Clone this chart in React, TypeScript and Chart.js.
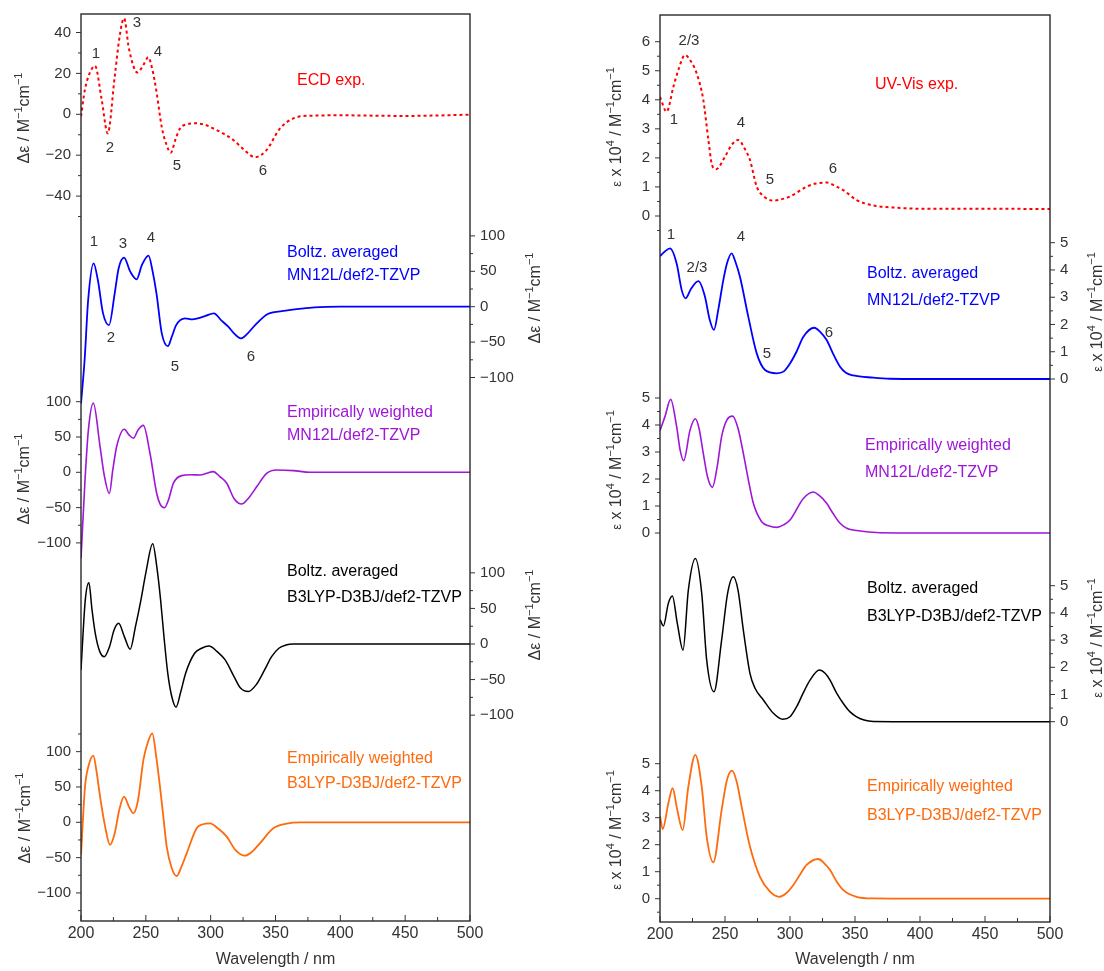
import React, { useEffect, useRef } from 'react';
import { Chart, registerables } from 'chart.js';

Chart.register(...registerables);

// ---------------- data ----------------
const xTickLabels = [200, 250, 300, 350, 400, 450, 500];

// ECD spectra (Δε / M^-1 cm^-1)
const ecdExpX = [200, 203, 206, 210.8, 216, 220.6, 226, 230, 233.2, 237, 243.5, 248, 251.9, 255, 258.4, 262.2, 266, 269.2, 273, 276.4, 282, 287.9, 295, 302, 310, 317.5, 326, 334.2, 343, 353.5, 363.8, 376.6, 400, 450, 500];
const ecdExpY = [-1, 12, 19, 23.7, 7, -9.3, 18.4, 39, 47, 32, 20.4, 24, 27.9, 22, 10.3, -6, -15, -18.8, -12, -6.9, -4.8, -4.4, -5, -6.9, -9.5, -12.6, -17.5, -21, -17.5, -6.9, -2, -0.7, -0.5, -0.8, -0.2];

const ecdBoltzMnX = [200, 202.8, 205.5, 209.7, 213, 217, 221.6, 226, 229, 233.2, 238, 242.9, 247, 252.1, 255, 258.2, 262.3, 267, 270, 273.4, 280.3, 286, 290, 296, 302.5, 308, 313.6, 318, 323.3, 328, 334.3, 344, 357.9, 370, 380, 400, 450, 500];
const ecdBoltzMnY = [-137, -75, 9, 61.3, 37.7, -9.4, -26, 18.9, 54, 69.3, 49.5, 38.7, 59, 72.2, 52, 18.9, -37.7, -55.7, -42.5, -26, -16.5, -18, -16.5, -13, -9.4, -18.9, -28.3, -37.7, -44.8, -38.7, -26, -10.4, -5.7, -2.8, -1, 0, 0, 0];

const ecdEmpMnX = [200, 203.1, 205.7, 209.5, 214.7, 218, 221.9, 224.5, 227.5, 233.4, 237, 240.4, 244, 248.1, 253.2, 258.4, 261, 264.3, 267.5, 271.2, 277.6, 285, 291.8, 297, 302, 307, 312.4, 318, 323.9, 329, 335.5, 343.2, 350.9, 363.8, 376.6, 400, 450, 500];
const ecdEmpMnY = [-122, -11, 60, 98, 36.5, -5, -29.9, 3, 36.5, 61, 53, 48.3, 60, 66.4, 27, -30, -45, -50.2, -39, -15.6, -4.7, -3.5, -3.8, -1.4, 1, -6, -15.6, -37, -45, -37, -20.4, -1.4, 3.3, 2.4, 0, 0, 0, 0];

const ecdBoltzB3X = [200, 203.3, 206.1, 208.5, 211, 214.5, 218, 222, 225.5, 229, 233.5, 237.9, 242, 246.2, 250, 255.3, 258.5, 261.4, 264, 266.9, 270, 273.3, 277, 280.7, 287.6, 293, 298.7, 305, 311.2, 318, 323, 329.1, 335, 341.6, 347, 352.6, 358, 363.7, 400, 450, 500];
const ecdBoltzB3Y = [-36.4, 61.7, 86, 48, 15, -10.7, -17.8, -3.7, 19.6, 29, 10, -7.5, 24.3, 61.7, 100, 141, 108, 61.7, 10, -41, -73.8, -88.8, -66.8, -41, -13, -6, -2.8, -10.7, -22.4, -45.8, -62, -66.8, -57.5, -36.4, -17.8, -6, -1.5, 0, 0, 0, 0];

const ecdEmpB3X = [200, 203.1, 206, 209.5, 212, 214.7, 218.5, 222.4, 226, 229.5, 233.2, 237, 240.4, 244, 248.1, 251.5, 255, 258, 260.9, 263.5, 266.1, 270, 273.8, 277.5, 281.5, 289.2, 294, 299.5, 305.5, 312.4, 319, 326.5, 332, 338, 348.3, 358.6, 368.9, 400, 450, 500];
const ecdEmpB3Y = [-46, 50.5, 81, 94.3, 71.7, 36.3, -5, -32, -15.6, 17.5, 36.3, 22, 12.7, 31.6, 88, 113, 126, 93, 50.5, 8, -34.4, -65, -76, -62.7, -43.9, -8.5, -2.8, -1.4, -8.5, -20.3, -39, -47.2, -41.5, -29.7, -8.5, -1.9, 0, 0, 0, 0];

// UV-Vis spectra (ε x 10^4 / M^-1 cm^-1)
const uvExpX = [200, 205.1, 210.3, 214.5, 219.2, 224, 228.2, 233.3, 237.2, 240, 243.1, 250, 255, 260.3, 265, 269.2, 274.4, 280, 287.2, 293, 300, 312.8, 320, 328.2, 335, 341, 351.3, 364.1, 376.9, 402.6, 450, 500];
const uvExpY = [4.1, 3.59, 4.45, 5.08, 5.54, 5.31, 4.91, 4.0, 2.62, 1.76, 1.61, 2.04, 2.44, 2.62, 2.33, 1.93, 1.01, 0.67, 0.53, 0.57, 0.67, 1.01, 1.12, 1.15, 1.03, 0.89, 0.55, 0.36, 0.30, 0.25, 0.25, 0.24];

const uvBoltzMnX = [200, 203.5, 207.7, 212.8, 216.7, 219.7, 224, 229.5, 234.6, 238, 241.5, 245, 248.7, 251.5, 255.1, 258, 261.5, 267.9, 274.4, 280.8, 289.7, 295, 300, 305, 310.3, 318.7, 323, 328.2, 333, 338.5, 343, 348.7, 364.1, 376.9, 400, 450, 500];
const uvBoltzMnY = [4.51, 4.67, 4.79, 4.24, 3.26, 2.96, 3.32, 3.59, 3.02, 2.22, 1.80, 2.59, 3.63, 4.24, 4.61, 4.30, 3.75, 2.29, 0.94, 0.33, 0.21, 0.27, 0.57, 1.0, 1.55, 1.88, 1.74, 1.43, 0.94, 0.45, 0.23, 0.13, 0.05, 0.01, 0, 0, 0];

const uvEmpMnX = [200, 203.8, 208.2, 212.8, 215.5, 218.2, 223.1, 227.2, 230, 233.3, 236.5, 240.3, 244, 247.4, 251.5, 255.9, 260, 264.1, 268, 271.8, 278.2, 284, 289.7, 295, 300, 310.3, 317.9, 322, 328.2, 333, 338.5, 344, 351.3, 369.2, 400, 450, 500];
const uvEmpMnY = [3.79, 4.31, 4.95, 3.94, 3.07, 2.68, 3.81, 4.23, 3.88, 2.95, 2.09, 1.69, 2.46, 3.57, 4.19, 4.33, 3.88, 2.95, 1.96, 1.10, 0.42, 0.26, 0.21, 0.30, 0.48, 1.28, 1.52, 1.41, 1.10, 0.73, 0.36, 0.17, 0.09, 0.01, 0, 0, 0];

const uvBoltzB3X = [200, 202.6, 206.4, 209.5, 213.3, 217.7, 221.8, 227.2, 232.1, 235.9, 241.5, 247.4, 252, 256.4, 260, 264.1, 269.2, 273.1, 279.5, 287.2, 294.4, 300, 305.1, 310, 315.4, 322.6, 327, 330.8, 336, 341, 346, 351.3, 357, 364.1, 400, 450, 500];
const uvBoltzB3Y = [3.76, 3.52, 4.35, 4.62, 3.62, 2.63, 4.84, 6.0, 4.72, 2.27, 1.10, 3.0, 4.72, 5.33, 4.84, 3.37, 1.78, 1.23, 0.80, 0.31, 0.09, 0.18, 0.55, 1.04, 1.53, 1.90, 1.78, 1.53, 1.04, 0.67, 0.37, 0.18, 0.06, 0.01, 0, 0, 0];

const uvEmpB3X = [200, 202.1, 206.4, 209.7, 213.3, 217.4, 221.8, 227.2, 232.1, 235.9, 241, 247.4, 251.5, 255.4, 259, 262.8, 269.2, 276.9, 284.6, 291.8, 297, 302.6, 307, 312.8, 321.8, 326, 330.8, 336, 341, 351.3, 364.1, 400, 450, 500];
const uvEmpB3Y = [3.06, 2.58, 3.53, 4.09, 3.28, 2.54, 4.15, 5.33, 4.15, 2.30, 1.35, 3.28, 4.4, 4.74, 4.33, 3.41, 1.93, 0.81, 0.26, 0.07, 0.2, 0.51, 0.84, 1.25, 1.47, 1.33, 1.06, 0.63, 0.32, 0.07, 0.01, 0, 0, 0];

// ---------------- styling / layout ----------------
const FONT = '"Liberation Sans", Arial, Helvetica, sans-serif';
const INK = '#333333';
const RED = '#ff0000';
const BLUE = '#0000ff';
const PURPLE = '#9e16d8';
const BLACK = '#000000';
const ORANGE = '#ff6a0d';
const H = 971;

type Part = { t: string; sup?: boolean; small?: boolean };
type Band = {
  id: string; side: 'left' | 'right';
  zero: number; pxPerUnit: number;
  from: number; to: number; step: number; labelEvery: number;
  title: Part[]; titleX: number; titleY: number;
};
type Label = { text: string; x: number; y: number; color: string; align: CanvasTextAlign; size: number };
type Series = { xs: number[]; ys: number[]; band: string; color: string; width: number; dash?: number[] };
type Panel = {
  left: number; width: number;
  areaLeft: number; areaRight: number; areaTop: number; areaBottom: number;
  bands: Band[]; series: Series[]; labels: Label[];
};

const M = '\u2212';
const ecdTitle: Part[] = [{ t: 'Δε' }, { t: ' / M' }, { t: M + '1', sup: true }, { t: 'cm' }, { t: M + '1', sup: true }];
const uvTitle: Part[] = [{ t: 'ε', small: true }, { t: ' x 10' }, { t: '4', sup: true }, { t: ' / M' }, { t: M + '1', sup: true }, { t: 'cm' }, { t: M + '1', sup: true }];

const num = (text: string, x: number, y: number): Label => ({ text, x, y, color: INK, align: 'center', size: 15 });
const name = (text: string, x: number, y: number, color: string): Label => ({ text, x, y, color, align: 'left', size: 16 });

const leftPanel: Panel = {
  left: 0, width: 580, areaLeft: 81, areaRight: 470, areaTop: 14, areaBottom: 921,
  bands: [
    { id: 'y0', side: 'left', zero: 114.3, pxPerUnit: 2.045, from: -50, to: 40, step: 10, labelEvery: 20, title: ecdTitle, titleX: 23, titleY: 118 },
    { id: 'y1', side: 'right', zero: 306.7, pxPerUnit: 0.708, from: -100, to: 100, step: 25, labelEvery: 50, title: ecdTitle, titleX: 534, titleY: 298 },
    { id: 'y2', side: 'left', zero: 472.3, pxPerUnit: 0.706, from: -100, to: 100, step: 25, labelEvery: 50, title: ecdTitle, titleX: 23, titleY: 479 },
    { id: 'y3', side: 'right', zero: 644, pxPerUnit: 0.7115, from: -100, to: 100, step: 25, labelEvery: 50, title: ecdTitle, titleX: 534, titleY: 615 },
    { id: 'y4', side: 'left', zero: 822.3, pxPerUnit: 0.7065, from: -125, to: 125, step: 25, labelEvery: 50, title: ecdTitle, titleX: 24, titleY: 818 },
  ],
  series: [
    { xs: ecdExpX, ys: ecdExpY, band: 'y0', color: RED, width: 2, dash: [3, 3] },
    { xs: ecdBoltzMnX, ys: ecdBoltzMnY, band: 'y1', color: BLUE, width: 1.8 },
    { xs: ecdEmpMnX, ys: ecdEmpMnY, band: 'y2', color: PURPLE, width: 1.6 },
    { xs: ecdBoltzB3X, ys: ecdBoltzB3Y, band: 'y3', color: BLACK, width: 1.5 },
    { xs: ecdEmpB3X, ys: ecdEmpB3Y, band: 'y4', color: ORANGE, width: 1.8 },
  ],
  labels: [
    num('1', 96, 54), num('2', 110, 148), num('3', 137, 23), num('4', 158, 52), num('5', 177, 166), num('6', 263, 171),
    num('1', 94, 242), num('3', 123, 244), num('4', 151, 238), num('2', 111, 338), num('5', 175, 367), num('6', 251, 357),
    name('ECD exp.', 297, 81, RED),
    name('Boltz. averaged', 287, 253, BLUE), name('MN12L/def2-TZVP', 287, 276, BLUE),
    name('Empirically weighted', 287, 413, PURPLE), name('MN12L/def2-TZVP', 287, 436, PURPLE),
    name('Boltz. averaged', 287, 572, BLACK), name('B3LYP-D3BJ/def2-TZVP', 287, 598, BLACK),
    name('Empirically weighted', 287, 759, ORANGE), name('B3LYP-D3BJ/def2-TZVP', 287, 784, ORANGE),
  ],
};

const rightPanel: Panel = {
  left: 580, width: 524, areaLeft: 660, areaRight: 1050, areaTop: 15, areaBottom: 922,
  bands: [
    { id: 'y0', side: 'left', zero: 216, pxPerUnit: 29.05, from: -0.5, to: 6, step: 0.5, labelEvery: 1, title: uvTitle, titleX: 615, titleY: 127 },
    { id: 'y1', side: 'right', zero: 379, pxPerUnit: 27.26, from: 0, to: 5, step: 0.5, labelEvery: 1, title: uvTitle, titleX: 1096, titleY: 312 },
    { id: 'y2', side: 'left', zero: 533, pxPerUnit: 27.0, from: 0, to: 5, step: 0.5, labelEvery: 1, title: uvTitle, titleX: 615, titleY: 470 },
    { id: 'y3', side: 'right', zero: 721.7, pxPerUnit: 27.2, from: 0, to: 5, step: 0.5, labelEvery: 1, title: uvTitle, titleX: 1096, titleY: 638 },
    { id: 'y4', side: 'left', zero: 898.7, pxPerUnit: 27.0, from: -0.5, to: 5, step: 0.5, labelEvery: 1, title: uvTitle, titleX: 615, titleY: 830 },
  ],
  series: [
    { xs: uvExpX, ys: uvExpY, band: 'y0', color: RED, width: 2, dash: [3, 3] },
    { xs: uvBoltzMnX, ys: uvBoltzMnY, band: 'y1', color: BLUE, width: 1.8 },
    { xs: uvEmpMnX, ys: uvEmpMnY, band: 'y2', color: PURPLE, width: 1.6 },
    { xs: uvBoltzB3X, ys: uvBoltzB3Y, band: 'y3', color: BLACK, width: 1.5 },
    { xs: uvEmpB3X, ys: uvEmpB3Y, band: 'y4', color: ORANGE, width: 1.8 },
  ],
  labels: [
    num('2/3', 689, 41), num('1', 674, 120), num('4', 741, 123), num('5', 770, 180), num('6', 833, 169),
    num('1', 671, 235), num('2/3', 697, 268), num('4', 741, 237), num('5', 767, 354), num('6', 829, 333),
    name('UV-Vis exp.', 875, 85, RED),
    name('Boltz. averaged', 867, 274, BLUE), name('MN12L/def2-TZVP', 867, 301, BLUE),
    name('Empirically weighted', 865, 446, PURPLE), name('MN12L/def2-TZVP', 865, 473, PURPLE),
    name('Boltz. averaged', 867, 589, BLACK), name('B3LYP-D3BJ/def2-TZVP', 867, 617, BLACK),
    name('Empirically weighted', 867, 787, ORANGE), name('B3LYP-D3BJ/def2-TZVP', 867, 816, ORANGE),
  ],
};

// ---------------- drawing helpers ----------------
function drawRich(ctx: CanvasRenderingContext2D, parts: Part[], cx: number, cy: number, base: number) {
  const fontFor = (p: Part) => `${p.sup ? Math.round(base * 0.7) : p.small ? Math.round(base * 0.8) : base}px ${FONT}`;
  const widths = parts.map((p) => { ctx.font = fontFor(p); return ctx.measureText(p.t).width; });
  const total = widths.reduce((s, w) => s + w, 0);
  ctx.save();
  ctx.translate(cx, cy);
  ctx.rotate(-Math.PI / 2);
  ctx.textAlign = 'left';
  ctx.textBaseline = 'alphabetic';
  ctx.fillStyle = INK;
  let x = -total / 2;
  const baseY = base * 0.36;
  parts.forEach((p, i) => {
    ctx.font = fontFor(p);
    ctx.fillText(p.t, x, p.sup ? baseY - base * 0.42 : baseY);
    x += widths[i];
  });
  ctx.restore();
}

function makePlugin(p: Panel) {
  return {
    id: 'bandAxes',
    afterDraw(chart: any) {
      const ctx: CanvasRenderingContext2D = chart.ctx;
      const a = chart.chartArea;
      const ox = p.left;
      ctx.save();
      // frame
      ctx.strokeStyle = '#1a1a1a';
      ctx.lineWidth = 1.3;
      ctx.strokeRect(a.left, a.top, a.right - a.left, a.bottom - a.top);
      // x ticks (inward)
      const xs = chart.scales.x;
      ctx.lineWidth = 1;
      ctx.strokeStyle = INK;
      for (let v = 200; v <= 500; v += 25) {
        const px = xs.getPixelForValue(v);
        const len = v % 50 === 0 ? 6 : 4;
        ctx.beginPath();
        ctx.moveTo(px, a.bottom);
        ctx.lineTo(px, a.bottom - len);
        ctx.stroke();
      }
      // y band axes
      p.bands.forEach((b) => {
        const sc = chart.scales[b.id];
        const n = Math.round((b.to - b.from) / b.step);
        for (let i = 0; i <= n; i++) {
          const v = b.from + i * b.step;
          const py = sc.getPixelForValue(v);
          const q = v / b.labelEvery;
          const major = Math.abs(q - Math.round(q)) < 1e-6;
          const len = major ? 5 : 3;
          ctx.lineWidth = 1;
          ctx.strokeStyle = INK;
          ctx.beginPath();
          if (b.side === 'left') { ctx.moveTo(a.left - len, py); ctx.lineTo(a.left, py); }
          else { ctx.moveTo(a.right, py); ctx.lineTo(a.right + len, py); }
          ctx.stroke();
          if (major) {
            const r = Math.round(v * 1000) / 1000;
            const txt = (r < 0 ? M : '') + String(Math.abs(r));
            ctx.font = `15px ${FONT}`;
            ctx.fillStyle = INK;
            ctx.textBaseline = 'middle';
            ctx.textAlign = b.side === 'left' ? 'right' : 'left';
            ctx.fillText(txt, b.side === 'left' ? a.left - 10 : a.right + 10, py);
          }
        }
        drawRich(ctx, b.title, b.titleX - ox, b.titleY, 16);
      });
      // annotations
      p.labels.forEach((l) => {
        ctx.font = `${l.size}px ${FONT}`;
        ctx.fillStyle = l.color;
        ctx.textAlign = l.align;
        ctx.textBaseline = 'middle';
        ctx.fillText(l.text, l.x - ox, l.y);
      });
      ctx.restore();
    },
  };
}

function buildConfig(p: Panel): any {
  const scales: any = {
    x: {
      type: 'linear', min: 200, max: 500,
      afterFit: (s: any) => { s.height = H - p.areaBottom; },
      afterBuildTicks: (s: any) => { s.ticks = xTickLabels.map((v) => ({ value: v })); },
      grid: { display: false, drawTicks: false },
      border: { display: false },
      ticks: { autoSkip: false, maxRotation: 0, padding: 3, color: INK, font: { family: FONT, size: 16 } },
      title: { display: true, text: 'Wavelength / nm', color: INK, font: { family: FONT, size: 16 }, padding: { top: 0, bottom: 2 } },
    },
  };
  p.bands.forEach((b) => {
    scales[b.id] = {
      type: 'linear', display: false, position: b.side,
      min: (b.zero - p.areaBottom) / b.pxPerUnit,
      max: (b.zero - p.areaTop) / b.pxPerUnit,
    };
  });
  return {
    type: 'line',
    data: {
      datasets: p.series.map((s) => ({
        data: s.xs.map((x, i) => ({ x, y: s.ys[i] })),
        xAxisID: 'x', yAxisID: s.band,
        borderColor: s.color, borderWidth: s.width, borderDash: s.dash || [],
        pointRadius: 0, fill: false, cubicInterpolationMode: 'monotone',
      })),
    },
    options: {
      responsive: false, maintainAspectRatio: false, animation: false,
      layout: { padding: { left: p.areaLeft - p.left, right: p.left + p.width - p.areaRight, top: p.areaTop, bottom: 0 } },
      plugins: { legend: { display: false }, tooltip: { enabled: false }, title: { display: false } },
      scales,
    },
    plugins: [makePlugin(p)],
  };
}

function PanelChart({ panel }: { panel: Panel }) {
  const ref = useRef<HTMLCanvasElement>(null);
  useEffect(() => {
    const chart = new Chart(ref.current as HTMLCanvasElement, buildConfig(panel));
    return () => chart.destroy();
  }, [panel]);
  return (
    <canvas
      ref={ref}
      width={panel.width}
      height={H}
      style={{ position: 'absolute', left: panel.left, top: 0, width: panel.width, height: H }}
    />
  );
}

export default function App() {
  return (
    <div style={{ position: 'absolute', left: 0, top: 0, width: 1104, height: H, background: '#ffffff', overflow: 'hidden' }}>
      <PanelChart panel={leftPanel} />
      <PanelChart panel={rightPanel} />
    </div>
  );
}
